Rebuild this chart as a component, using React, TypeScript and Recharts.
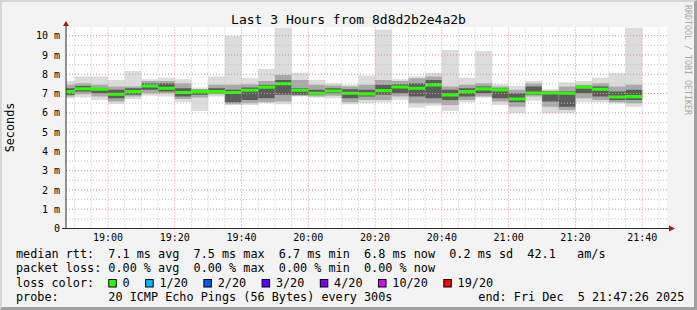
import { ComposedChart, Area, XAxis, YAxis, CartesianGrid, ReferenceLine, ReferenceDot } from 'recharts';

// start of each 5 min step, minutes after 18:00 (the first one is cut by the left edge)
const stepStart = [
  47.43, 50, 55, 60, 65, 70, 75, 80, 85, 90, 95, 100, 105, 110, 115, 120, 125, 130,
  135, 140, 145, 150, 155, 160, 165, 170, 175, 180, 185, 190, 195, 200, 205, 210, 215,
];
const lastStepEnd = 220;

// values in ms
const medianRtt = [
  7.10, 7.25, 7.22, 6.96, 7.10, 7.39, 7.27, 7.05, 7.10, 7.10, 7.05, 7.17, 7.33, 7.51, 7.17, 7.01, 7.13, 7.01,
  6.98, 7.15, 7.34, 7.27, 7.45, 6.93, 7.10, 7.24, 7.19, 6.72, 7.03, 7.03, 7.01, 7.33, 7.22, 6.82, 6.84,
];
const maxRtt = [
  7.65, 7.88, 7.88, 7.70, 8.17, 7.74, 7.82, 7.74, 7.31, 7.88, 10.0, 7.79, 8.27, 10.41, 8.08, 7.70, 7.53, 7.45,
  7.93, 10.31, 7.74, 7.88, 8.08, 9.26, 7.82, 9.21, 7.48, 7.39, 7.65, 7.22, 7.58, 7.65, 7.82, 8.05, 10.41,
];
const minRtt = [
  6.75, 6.79, 6.67, 6.46, 6.72, 6.88, 6.84, 6.55, 6.10, 6.84, 6.41, 6.41, 6.50, 6.45, 6.84, 6.79, 6.75, 6.45,
  6.50, 6.53, 6.67, 6.27, 6.36, 6.10, 6.55, 6.79, 6.41, 5.98, 6.62, 5.98, 5.98, 6.55, 6.55, 6.48, 6.32,
];
const hiRtt = [
  7.45, 7.53, 7.45, 7.36, 7.36, 7.65, 7.65, 7.53, 7.24, 7.45, 7.45, 7.48, 7.65, 7.96, 7.70, 7.45, 7.41, 7.36,
  7.45, 7.70, 7.65, 7.79, 7.88, 7.36, 7.45, 7.53, 7.36, 7.19, 7.53, 7.14, 7.36, 7.45, 7.53, 7.36, 7.45,
];
const loRtt = [
  6.84, 6.96, 6.84, 6.58, 6.84, 7.01, 7.01, 6.72, 6.79, 6.96, 6.45, 6.50, 6.55, 6.58, 6.89, 6.84, 6.89, 6.55,
  6.67, 6.67, 6.84, 6.50, 6.50, 6.41, 6.67, 6.84, 6.58, 6.32, 6.84, 6.32, 6.15, 6.75, 6.67, 6.55, 6.50,
];
const coreHiRtt = [
  7.27, 7.39, 7.27, 7.19, 7.27, 7.53, 7.53, 7.27, 7.17, 7.27, 7.19, 7.31, 7.45, 7.70, 7.27, 7.19, 7.27, 7.22,
  7.19, 7.45, 7.48, 7.53, 7.70, 7.19, 7.27, 7.36, 7.27, 7.01, 7.36, 7.10, 7.10, 7.36, 7.36, 7.10, 7.19,
];
const coreLoRtt = [
  6.93, 7.10, 7.01, 6.75, 6.93, 7.19, 7.10, 6.84, 6.93, 7.01, 6.55, 6.67, 6.75, 6.93, 6.93, 6.93, 7.01, 6.75,
  6.84, 6.93, 7.01, 6.84, 6.75, 6.67, 6.84, 7.01, 6.75, 6.55, 6.93, 6.58, 6.32, 7.01, 6.84, 6.67, 6.67,
];

const xTicks = [60, 80, 100, 120, 140, 160, 180, 200, 220];
const xTickLabels = ['19:00', '19:20', '19:40', '20:00', '20:20', '20:40', '21:00', '21:20', '21:40'];
const yTicks = [0, 1, 2, 3, 4, 5, 6, 7, 8, 9, 10];

const lossLabels = ['0', '1/20', '2/20', '3/20', '4/20', '10/20', '19/20'];
const lossColors = ['#26ff00', '#00b8ff', '#0059ff', '#5e00ff', '#7e00ff', '#dd00ff', '#ff0000'];

const title = 'Last 3 Hours from 8d8d2b2e4a2b';
const rttLine = 'median rtt:  7.1 ms avg  7.5 ms max  6.7 ms min  6.8 ms now  0.2 ms sd  42.1   am/s';
const lossLine = 'packet loss: 0.00 % avg  0.00 % max  0.00 % min  0.00 % now';
const probeLine = 'probe:       20 ICMP Echo Pings (56 Bytes) every 300s';
const endLine = 'end: Fri Dec  5 21:47:26 2025';

const X_MIN = 47.43;
const X_MAX = 227.43;
const Y_MAX = 10.45;
const MONO = 'DejaVu Sans Mono';

// svg collapses runs of spaces, so keep them as nbsp
const keepSpaces = (s: string) => s.replace(/ /g, '\u00a0');

const rows = stepStart.map((t, i) => ({
  t,
  outer: [minRtt[i], maxRtt[i]],
  mid: [loRtt[i], hiRtt[i]],
  core: [coreLoRtt[i], coreHiRtt[i]],
  med: [medianRtt[i] - 0.08, medianRtt[i] + 0.08],
}));
rows.push({ ...rows[rows.length - 1], t: lastStepEnd });

// grid positions
const hMinor: number[] = [];
const hMajor: number[] = [];
for (let v = 0.5; v < Y_MAX; v += 0.5) (Number.isInteger(v) ? hMajor : hMinor).push(v);
const vMinor: number[] = [];
const vMajor: number[] = [];
for (let m = 50; m < X_MAX; m += 5) (m % 20 === 0 ? vMajor : vMinor).push(m);

const XTick = (p: any) => {
  const idx = xTicks.indexOf(p.payload.value);
  return (
    <text x={p.x} y={p.y} dy={12.3} textAnchor="middle" fontSize={10} fontFamily={MONO} fill="#000">
      {xTickLabels[idx]}
    </text>
  );
};

const YTick = (p: any) => {
  const v = p.payload.value;
  return (
    <text x={p.x} y={p.y} dy={3.6} textAnchor="end" fontSize={10} fontFamily={MONO} fill="#000">
      {v === 0 ? '0' : keepSpaces(`${v} m`)}
    </text>
  );
};

const ArrowUp = (p: any) => (
  <g>
    <line x1={p.cx} y1={p.cy} x2={p.cx} y2={p.cy - 2} stroke="#2c2c2c" />
    <path d={`M${p.cx - 3},${p.cy - 1}L${p.cx + 3},${p.cy - 1}L${p.cx},${p.cy - 6}Z`} fill="#9b1c1c" />
    <line x1={p.cx - 4} y1={p.cy + 201.5} x2={p.cx} y2={p.cy + 201.5} stroke="#2c2c2c" />
  </g>
);

const ArrowRight = (p: any) => (
  <g>
    <line x1={p.cx} y1={p.cy} x2={p.cx + 3} y2={p.cy} stroke="#2c2c2c" />
    <path d={`M${p.cx + 2},${p.cy - 3}L${p.cx + 2},${p.cy + 3}L${p.cx + 8},${p.cy}Z`} fill="#9b1c1c" />
  </g>
);

const App = () => {
  // loss colour legend, laid out left to right
  let lx = 108.3;
  const lossItems = lossLabels.map((label, i) => {
    const item = { label, color: lossColors[i], boxX: lx, textX: lx + 14.3 };
    lx = item.textX + label.length * 7.1 + 15.5;
    return item;
  });

  return (
    <div style={{ position: 'absolute', left: 0, top: 0, width: 697, height: 310, background: '#f3f3f3', overflow: 'hidden' }}>
      <ComposedChart
        width={697}
        height={310}
        data={rows}
        margin={{ top: 27, right: 30, bottom: 61.5, left: 6 }}
        style={{ fontFamily: MONO }}
      >
        <CartesianGrid horizontal={false} vertical={false} fill="#ffffff" fillOpacity={1} />
        <XAxis
          dataKey="t"
          type="number"
          domain={[X_MIN, X_MAX]}
          allowDataOverflow
          ticks={xTicks}
          interval={0}
          tick={XTick}
          tickLine={false}
          tickSize={0}
          tickMargin={0}
          height={20}
          axisLine={{ stroke: '#2c2c2c' }}
        />
        <YAxis
          type="number"
          domain={[0, Y_MAX]}
          allowDataOverflow
          ticks={yTicks}
          interval={0}
          tick={YTick}
          tickLine={false}
          tickSize={0}
          tickMargin={6}
          width={60}
          axisLine={{ stroke: '#2c2c2c' }}
        />
        <Area dataKey="outer" type="stepAfter" stroke="none" fill="#dcdcdc" fillOpacity={1} dot={false} activeDot={false} isAnimationActive={false} />
        <Area dataKey="mid" type="stepAfter" stroke="none" fill="#a9a9a9" fillOpacity={1} dot={false} activeDot={false} isAnimationActive={false} />
        <Area dataKey="core" type="stepAfter" stroke="none" fill="#5c5c5c" fillOpacity={1} dot={false} activeDot={false} isAnimationActive={false} />
        <Area dataKey="med" type="stepAfter" stroke="none" fill="#26ff00" fillOpacity={1} dot={false} activeDot={false} isAnimationActive={false} />
        {hMinor.map((v) => (
          <ReferenceLine key={`hm${v}`} y={v} stroke="#c4c4c4" strokeDasharray="1 2" />
        ))}
        {vMinor.map((m) => (
          <ReferenceLine key={`vm${m}`} x={m} stroke="#c4c4c4" strokeDasharray="1 2" />
        ))}
        {hMajor.map((v) => (
          <ReferenceLine key={`hM${v}`} y={v} stroke="#e48c8c" strokeDasharray="1 2" />
        ))}
        {vMajor.map((m) => (
          <ReferenceLine key={`vM${m}`} x={m} stroke="#e48c8c" strokeDasharray="1 2" />
        ))}
        <ReferenceDot x={X_MIN} y={Y_MAX} r={0} shape={ArrowUp} />
        <ReferenceDot x={X_MAX} y={0} r={0} shape={ArrowRight} />
      </ComposedChart>

      <svg width={697} height={310} style={{ position: 'absolute', left: 0, top: 0, pointerEvents: 'none' }}>
        <g fontFamily={MONO} fill="#000">
          <text x={348.5} y={23.5} fontSize={13} textAnchor="middle">{title}</text>
          <text x={14} y={127.5} fontSize={11.8} textAnchor="middle" transform="rotate(-90 14 127.5)">Seconds</text>
          <text x={685} y={60} fontSize={8.3} fill="#a8a8a8" textAnchor="middle" transform="rotate(90 685 60)">
            RRDTOOL / TOBI OETIKER
          </text>
          <text x={16} y={258} fontSize={11.8}>{keepSpaces(rttLine)}</text>
          <text x={16} y={272.3} fontSize={11.8}>{keepSpaces(lossLine)}</text>
          <text x={16} y={286.7} fontSize={11.8}>loss color:</text>
          {lossItems.map((it) => (
            <g key={it.label}>
              <rect x={it.boxX + 0.5} y={279.5} width={7.5} height={7.5} fill={it.color} stroke="#000" strokeWidth={1} />
              <text x={it.textX} y={286.7} fontSize={11.8}>{it.label}</text>
            </g>
          ))}
          <text x={16} y={300.5} fontSize={11.8}>{keepSpaces(probeLine)}</text>
          <text x={478.3} y={300.5} fontSize={11.8}>{keepSpaces(endLine)}</text>
        </g>
      </svg>
      <div
        style={{
          position: 'absolute', left: 0, top: 0, width: 697, height: 310, boxSizing: 'border-box',
          borderLeft: '2px solid #d6d6d6', borderTop: '2px solid #d6d6d6',
          borderRight: '3px solid #a0a0a0', borderBottom: '3px solid #a0a0a0', pointerEvents: 'none',
        }}
      />
    </div>
  );
};

export default App;
